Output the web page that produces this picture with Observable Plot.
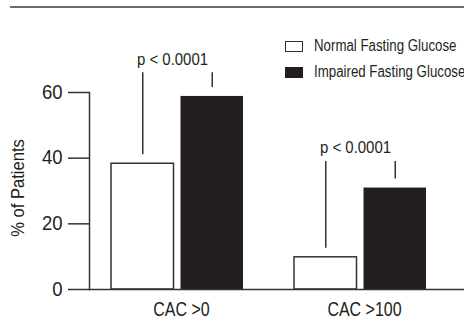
<!DOCTYPE html>
<html><head><meta charset="utf-8">
<script src="https://cdn.jsdelivr.net/npm/d3@7"></script>
<script src="https://cdn.jsdelivr.net/npm/@observablehq/plot@0.6"></script>
<style>
html,body{margin:0;padding:0;background:#fff;overflow:hidden;width:464px;height:335px;}
#wrap{position:relative;width:464px;height:335px;overflow:hidden;font-family:"Liberation Sans",Arial,Helvetica,sans-serif;color:#231f20;}
#head{height:9px;position:relative}
#head .rule{position:absolute;left:10px;right:0;top:6px;height:2px;background:#6d6d6d}
.sw{position:absolute;left:285px;width:18px;height:11px;box-sizing:border-box}
.lab{position:absolute;left:314px;white-space:nowrap;font-size:16px;line-height:16px;transform:scaleX(0.83);transform-origin:0 0}
</style></head>
<body>
<div id="wrap">
  <div id="head"><div class="rule"></div></div>
  <div id="chart"></div>
  <div id="legend"></div>
</div>
<script>
const groups = ["CAC >0", "CAC >100"];
const normalValues = [38.3, 9.8];
const impairedValues = [58.8, 30.9];
const bracketTops = [66, 39];
const pLabels = ["p < 0.0001", "p < 0.0001"];
const yTicks = [0, 20, 40, 60];
const seriesNames = ["Normal Fasting Glucose", "Impaired Fasting Glucose"];
const yLabel = "% of Patients";

const rows = groups.map((g, i) => ({group: g, normal: normalValues[i], impaired: impairedValues[i], top: bracketTops[i], p: pLabels[i]}));

const ink = "#231f20";
const line = "#333";
const font = '"Liberation Sans",Arial,Helvetica,sans-serif';

const chart = Plot.plot({
  width: 464, height: 326,
  marginLeft: 89, marginRight: 0, marginTop: 83, marginBottom: 46,
  style: {fontFamily: font, background: "white", color: ink, overflow: "visible"},
  x: {domain: groups, paddingInner: 0.281, paddingOuter: 0.16, align: 0.37, axis: null},
  y: {domain: [0, 60], axis: null},
  marks: [
    Plot.barY(rows, {x: "group", y: "normal", fill: "white", stroke: line, strokeWidth: 1.5, insetRight: 69.5}),
    Plot.barY(rows, {x: "group", y: "impaired", fill: ink, insetLeft: 69.5}),
    Plot.frame({anchor: "left", stroke: line, strokeWidth: 1.5}),
    Plot.ruleY([0], {stroke: line, strokeWidth: 1.5}),
    Plot.axisY(yTicks, {tickSize: 21, tickPadding: 6, fontSize: 19.5, stroke: line, strokeWidth: 1.5, label: null, tickFormat: d => String(d), className: "cond-95"}),
    Plot.axisX(groups, {tickSize: 0, tickPadding: 12, fontSize: 20.5, dx: 4, label: null, className: "cond-78"}),
    Plot.text([yLabel], {frameAnchor: "left", textAnchor: "middle", rotate: -90, dx: -71, dy: -3, fontSize: 18, fill: ink, className: "cond-90"}),
    // significance brackets
    Plot.ruleX(rows, {x: "group", y1: "top", y2: "normal", dx: -34.75, insetBottom: 9, stroke: line, strokeWidth: 1.5}),
    Plot.ruleX(rows, {x: "group", y1: "top", y2: "impaired", dx: 34.75, insetBottom: 9, stroke: line, strokeWidth: 1.5}),
    Plot.ruleY(rows, {x: "group", y: "top", insetLeft: 31.35, insetRight: 31.35, stroke: line, strokeWidth: 1.5}),
    Plot.text(rows, {x: "group", y: "top", text: "p", dx: -5, dy: -8, lineAnchor: "bottom", fontSize: 17, fill: ink, className: "cond-88"})
  ]
});
document.getElementById("chart").appendChild(chart);

// condensed lettering, as in the reference typeface
const condense = {"cond-95": 0.95, "cond-78": 0.78, "cond-90": 0.92, "cond-88": 0.88};
Object.entries(condense).forEach(([cls, k]) => {
  chart.querySelectorAll("." + cls + " text, text." + cls).forEach(t => {
    const len = t.getComputedTextLength();
    t.setAttribute("textLength", (len * k).toFixed(2));
    t.setAttribute("lengthAdjust", "spacingAndGlyphs");
  });
});

// legend (overlaid in the upper right of the plot area)
const legend = document.getElementById("legend");
const swatchStyles = [
  {background: "#fff", border: "1.5px solid " + line},
  {background: ink, border: "none"}
];
const swatchTops = [40.5, 66.5];
const labelTops = [37.5, 63.5];
seriesNames.forEach((name, i) => {
  const sw = document.createElement("div");
  sw.className = "sw";
  sw.style.top = swatchTops[i] + "px";
  Object.assign(sw.style, swatchStyles[i]);
  const lab = document.createElement("div");
  lab.className = "lab";
  lab.style.top = labelTops[i] + "px";
  lab.textContent = name;
  legend.appendChild(sw);
  legend.appendChild(lab);
});
</script>
</body></html>
